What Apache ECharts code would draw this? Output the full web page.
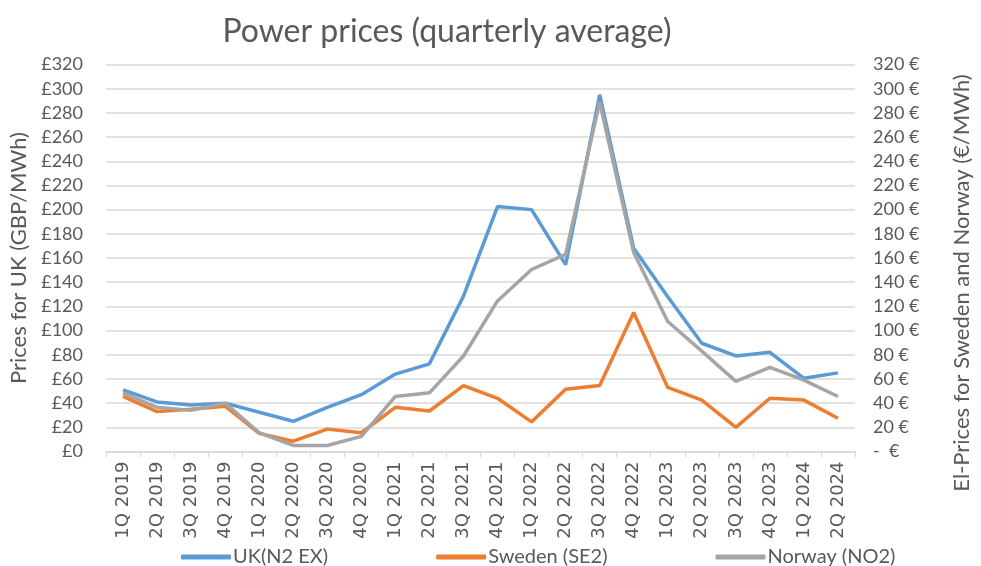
<!DOCTYPE html>
<html><head><meta charset="utf-8">
<script src="https://cdn.jsdelivr.net/npm/echarts@6/dist/echarts.min.js"></script>
<style>html,body{margin:0;padding:0;background:#fff}#c{width:981px;height:566px}</style>
</head><body><div id="c"></div>
<script>
const categories = ['1Q 2019','2Q 2019','3Q 2019','4Q 2019','1Q 2020','2Q 2020','3Q 2020','4Q 2020','1Q 2021','2Q 2021','3Q 2021','4Q 2021','1Q 2022','2Q 2022','3Q 2022','4Q 2022','1Q 2023','2Q 2023','3Q 2023','4Q 2023','1Q 2024','2Q 2024'];
const ukValues = [51,41,38.5,40,32.5,25,36.5,47,64,72.5,128.5,202.5,200,154.5,295,168,128,89.5,79,82,60.5,65];
const swedenValues = [45.5,33,35,37.5,15,8.5,18.5,15.5,36.5,33.5,54.5,44,24.5,51.5,54.5,115,53,42.5,20,44,42.5,27.5];
const norwayValues = [48.5,36.5,34,40,15.5,5,5,12.5,45.5,48.5,79,124.5,150.5,163,289,164.5,107.5,83,58,69.5,59,45.5];
const seriesNames = ['UK(N2 EX)','Sweden (SE2)','Norway (NO2)'];
const colors = ['#5b9bd5','#ed7d31','#a5a5a5'];
const font = 'Lato, "Open Sans", sans-serif';
const txt = '#595959';

const chart = echarts.init(document.getElementById('c'), null, {renderer:'canvas'});
const mk = (name, data, color, yi) => ({
  name, type:'line', data, yAxisIndex: yi, showSymbol:false, symbol:'none',
  lineStyle:{color, width:3.5}, itemStyle:{color}, smooth:false
});
chart.setOption({
  animation:false,
  textStyle:{fontFamily:font},
  title:{text:'Power prices (quarterly average)', left:442, top:11, textAlign:'center',
    textStyle:{fontFamily:font, fontSize:32, fontWeight:'normal', color:txt}},
  grid:{left:106, right:120, top:64.5, bottom:114.5},
  legend:{top:542, left:176, itemGap:108, itemWidth:50, itemHeight:5, icon:'roundRect',
    textStyle:{fontFamily:font, fontSize:20, color:txt, padding:[0,0,0,-3]}, data:seriesNames},
  xAxis:{type:'category', data:categories, boundaryGap:true,
    axisLine:{lineStyle:{color:'#d9d9d9', width:1.5}},
    axisTick:{show:true, length:6, lineStyle:{color:'#d9d9d9'}},
    axisLabel:{rotate:90, fontFamily:'"DejaVu Sans", sans-serif', fontSize:18, color:txt, margin:10, interval:0}},
  yAxis:[
    {type:'value', min:0, max:320, interval:20, position:'left',
     name:'Prices for UK (GBP/MWh)', nameLocation:'middle', nameRotate:90, nameGap:74,
     nameTextStyle:{fontFamily:font, fontSize:22, color:txt},
     axisLabel:{formatter:v=>'£'+v, fontFamily:font, fontSize:18, color:txt, margin:23},
     splitLine:{lineStyle:{color:'#d9d9d9', width:1.5}}, axisLine:{show:false}, axisTick:{show:false}},
    {type:'value', min:0, max:320, interval:20, position:'right',
     name:'El-Prices for Sweden and Norway (€/MWh)', nameLocation:'middle', nameRotate:90, nameGap:96,
     nameTextStyle:{fontFamily:font, fontSize:22, color:txt, padding:[0,50,0,0]},
     axisLabel:{formatter:v=>v===0?'-  €':v+' €', fontFamily:font, fontSize:18, color:txt, margin:18},
     splitLine:{show:false}, axisLine:{show:false}, axisTick:{show:false}}
  ],
  series:[
    mk(seriesNames[0], ukValues, colors[0], 0),
    mk(seriesNames[1], swedenValues, colors[1], 1),
    mk(seriesNames[2], norwayValues, colors[2], 1)
  ]
});
</script></body></html>
